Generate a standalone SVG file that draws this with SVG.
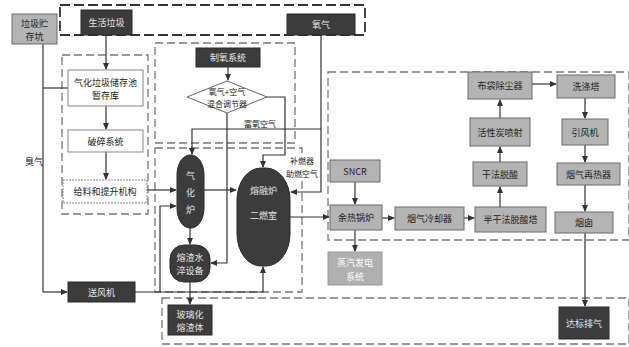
<svg xmlns="http://www.w3.org/2000/svg" width="629" height="347" viewBox="0 0 629 347">
<defs>
<marker id="ar" viewBox="0 0 8 8" refX="7" refY="4" markerWidth="6" markerHeight="6" orient="auto"><path d="M0,0.5 L8,4 L0,7.5 Z" fill="#333"/></marker>
<style>
.t{font-family:"Noto Sans CJK SC","Noto Sans",sans-serif;font-size:9px;text-anchor:middle;dominant-baseline:central}
.w{fill:#e6e6e6}
.k{fill:#222}
.dk{fill:#3c3c3c;stroke:#2a2a2a;stroke-width:1}
.gy{fill:#b4b4b4;stroke:#6a6a6a;stroke-width:1}
.lg{fill:#b0b0b0;stroke:#999;stroke-width:1}
.wb{fill:#fff;stroke:#888;stroke-width:1}
.db{fill:none;stroke:#777;stroke-width:1.3;stroke-dasharray:8 4}
.db2{fill:none;stroke:#333;stroke-width:1.8;stroke-dasharray:10 4}
.c{fill:none;stroke:#333;stroke-width:1.2}
.a{marker-end:url(#ar)}
</style>
</defs>
<rect width="629" height="347" fill="#fff"/>
<g id="frames">
<rect class="db2" x="60" y="5" width="305" height="30"/>
<rect class="db" x="62" y="55" width="86" height="159"/>
<rect class="db" x="155" y="43" width="140" height="100"/>
<rect class="db" x="155" y="148" width="147" height="144"/>
<rect class="db" x="328" y="72" width="301" height="168"/>
<rect class="db" x="162" y="298" width="467" height="46"/>
</g>
<g id="connectors">
<path class="c a" d="M106,35 V69"/>
<path class="c a" d="M106,106 V129"/>
<path class="c a" d="M106,152 V179"/>
<path class="c" d="M43,44 V292"/>
<path class="c a" d="M43,292 H67"/>
<path class="c" d="M43,88 H68"/>
<path class="c a" d="M147,190 H176"/>
<path class="c a" d="M135,292 H263 V267"/>
<path class="c a" d="M160,292 V206 H176"/>
<path class="c a" d="M228,67 V80"/>
<path class="c a" d="M227,113 V263 H211"/>
<path class="c a" d="M267,97 H285 V155 H263 V167"/>
<path class="c a" d="M321,35 V192 H291"/>
<path class="c a" d="M321,129 H192 V154"/>
<path class="c a" d="M204,190 H236"/>
<path class="c a" d="M190,228 V244"/>
<path class="c a" d="M190,282 V304"/>
<path class="c a" d="M290,217 H329"/>
<path class="c a" d="M355,182 V204"/>
<path class="c a" d="M355,230 V251"/>
<path class="c a" d="M382,218 H394"/>
<path class="c a" d="M464,218 H474"/>
<path class="c a" d="M500,207 V187"/>
<path class="c a" d="M500,162 V147"/>
<path class="c a" d="M500,118 V100"/>
<path class="c a" d="M532,84 H556"/>
<path class="c a" d="M585,98 V118"/>
<path class="c a" d="M585,145 V162"/>
<path class="c a" d="M585,185 V211"/>
<path class="c a" d="M585,233 V306"/>
</g>
<g id="n-pit"><rect class="gy" x="12" y="14" width="45" height="30"/><text class="t k" x="34.5" y="23">垃圾贮</text><text class="t k" x="34.5" y="36">存坑</text></g>
<g id="n-msw"><rect class="dk" x="81" y="10" width="51" height="25"/><text class="t w" x="106.5" y="22.5">生活垃圾</text></g>
<g id="n-o2"><rect class="dk" x="287" y="14" width="68" height="21"/><text class="t w" x="321" y="24.5">氧气</text></g>
<g id="n-store"><rect class="wb" x="68" y="70" width="75" height="36"/><text class="t k" x="105.5" y="82">气化垃圾储存池</text><text class="t k" x="105.5" y="95">暂存库</text></g>
<g id="n-crush"><rect class="wb" x="68" y="130" width="75" height="22"/><text class="t k" x="105.5" y="141">破碎系统</text></g>
<g id="n-feed"><rect class="wb" x="63" y="180" width="84" height="23" stroke-dasharray="2 1"/><text class="t k" x="105" y="191.5">给料和提升机构</text></g>
<g id="n-blower"><rect class="dk" x="68" y="282" width="67" height="20"/><text class="t w" x="101.5" y="292">送风机</text></g>
<g id="n-oxy"><rect class="dk" x="196" y="48" width="64" height="19"/><text class="t w" x="228" y="57.5">制氧系统</text></g>
<g id="n-mix"><polygon points="187,97 227,81 267,97 227,113" fill="#fff" stroke="#666" stroke-width="1"/><text class="t k" x="227" y="91" style="font-size:8px">氧气+空气</text><text class="t k" x="227" y="103" style="font-size:8px">混合调节器</text></g>
<g id="n-gasifier"><rect class="dk" x="177" y="155" width="27" height="73" rx="13" ry="20"/><text class="t w" x="190.5" y="175">气</text><text class="t w" x="190.5" y="192">化</text><text class="t w" x="190.5" y="209">炉</text></g>
<g id="n-melt"><rect class="dk" x="237" y="168" width="53" height="98" rx="24" ry="32"/><text class="t w" x="263.5" y="190">熔融炉</text><text class="t w" x="263.5" y="215">二燃室</text></g>
<g id="n-slag"><rect class="dk" x="170" y="245" width="40" height="37" rx="14" ry="14"/><text class="t w" x="190" y="257">熔渣水</text><text class="t w" x="190" y="270">淬设备</text></g>
<g id="n-glass"><rect class="dk" x="168" y="305" width="44" height="30"/><text class="t w" x="190" y="314">玻璃化</text><text class="t w" x="190" y="327">熔渣体</text></g>
<g id="labels">
<rect x="26" y="154" width="15" height="14" fill="#fff"/>
<text class="t k" x="34" y="161">臭气</text>
<text class="t k" x="260" y="123" style="font-size:8px">富氧空气</text>
<rect x="288" y="154" width="30" height="25" fill="#fff" opacity="0.85"/>
<text class="t k" x="302" y="160" style="font-size:8px">补燃器</text>
<text class="t k" x="302" y="173" style="font-size:8px">助燃空气</text>
</g>
<g id="n-sncr"><rect class="gy" x="330" y="160" width="50" height="22"/><text class="t k" x="355" y="171">SNCR</text></g>
<g id="n-boiler"><rect class="gy" x="330" y="205" width="52" height="25"/><text class="t k" x="356" y="217.5">余热锅炉</text></g>
<g id="n-steam"><rect class="lg" x="328" y="252" width="54" height="33"/><text class="t" x="355" y="262" fill="#fff">蒸汽发电</text><text class="t" x="355" y="276" fill="#fff">系统</text></g>
<g id="n-cooler"><rect class="gy" x="395" y="207" width="69" height="23"/><text class="t k" x="429.5" y="218.5">烟气冷却器</text></g>
<g id="n-semidry"><rect class="gy" x="475" y="207" width="71" height="25"/><text class="t k" x="510.5" y="219.5">半干法脱酸塔</text></g>
<g id="n-dry"><rect class="gy" x="473" y="162" width="54" height="24"/><text class="t k" x="500" y="174">干法脱酸</text></g>
<g id="n-ac"><rect class="gy" x="470" y="118" width="60" height="28"/><text class="t k" x="500" y="132">活性炭喷射</text></g>
<g id="n-bag"><rect class="gy" x="468" y="72" width="64" height="27"/><text class="t k" x="500" y="85.5">布袋除尘器</text></g>
<g id="n-scrub"><rect class="gy" x="557" y="75" width="58" height="23"/><text class="t k" x="586" y="86.5">洗涤塔</text></g>
<g id="n-idf"><rect class="gy" x="562" y="119" width="46" height="26"/><text class="t k" x="585" y="132">引风机</text></g>
<g id="n-reheat"><rect class="gy" x="557" y="163" width="63" height="22"/><text class="t k" x="588.5" y="174">烟气再热器</text></g>
<g id="n-stack"><rect class="gy" x="555" y="212" width="58" height="21"/><text class="t k" x="584" y="222.5">烟囱</text></g>
<g id="n-emit"><rect class="dk" x="559" y="307" width="50" height="32"/><text class="t w" x="584" y="323">达标排气</text></g>
</svg>
